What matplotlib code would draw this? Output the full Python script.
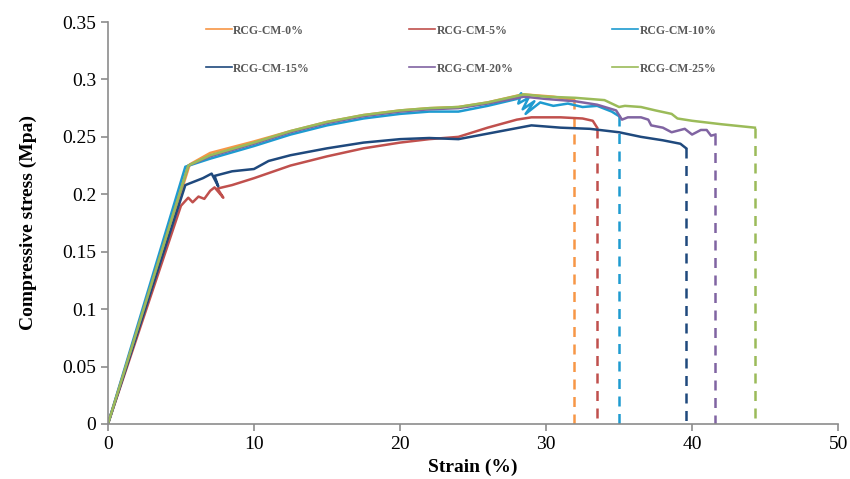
import numpy as np
import matplotlib.pyplot as plt

plt.rcParams['font.family'] = ['Liberation Serif', 'DejaVu Serif']

# strain (%) / stress (MPa)
labels = ['RCG-CM-0%', 'RCG-CM-5%', 'RCG-CM-10%', 'RCG-CM-15%', 'RCG-CM-20%', 'RCG-CM-25%']
colors = ['#F79646', '#C0504D', '#1E9BD0', '#1F497D', '#8064A2', '#9BBB59']

x0 = [0, 5.6, 7, 10, 12.5, 15, 17.5, 20, 22, 24, 26, 28.4, 29.5, 30.5, 31.5, 31.9]
y0 = [0, 0.226, 0.236, 0.246, 0.255, 0.263, 0.269, 0.273, 0.275, 0.276, 0.28, 0.287, 0.286, 0.285, 0.283, 0.283]

x5 = [0, 5.0, 5.5, 5.8, 6.2, 6.6, 7.0, 7.3, 7.9, 7.5, 8.5, 10, 12.5, 15, 17.5, 20, 22, 24, 26, 28, 29, 31, 32.5, 33.2, 33.5]
y5 = [0, 0.19, 0.197, 0.193, 0.198, 0.196, 0.203, 0.206, 0.197, 0.205, 0.208, 0.214, 0.225, 0.233, 0.24, 0.245, 0.248, 0.25, 0.258, 0.265, 0.267, 0.267, 0.266, 0.264, 0.258]

x10 = [0, 5.3, 7, 10, 12.5, 15, 17.5, 20, 22, 24, 26, 28.0, 28.3, 28.1, 28.8, 28.4, 29.2, 28.6, 29.6, 30.5, 31.5, 32.5, 33.5, 34.5, 35.0]
y10 = [0, 0.224, 0.231, 0.242, 0.252, 0.26, 0.266, 0.27, 0.272, 0.272, 0.277, 0.283, 0.288, 0.279, 0.284, 0.274, 0.281, 0.27, 0.28, 0.277, 0.279, 0.276, 0.277, 0.272, 0.268]

x15 = [0, 5.3, 6.5, 7.1, 7.55, 7.3, 8.5, 10, 11, 12.5, 15, 17.5, 20, 22, 24, 26.5, 29, 31, 33, 35, 36.5, 38, 39.2, 39.6]
y15 = [0, 0.208, 0.214, 0.218, 0.207, 0.216, 0.22, 0.222, 0.229, 0.234, 0.24, 0.245, 0.248, 0.249, 0.248, 0.254, 0.26, 0.258, 0.257, 0.254, 0.25, 0.247, 0.244, 0.24]

x20 = [0, 5.5, 7, 10, 12.5, 15, 17.5, 20, 22, 24, 26, 28.5, 30, 32, 33.5, 34.8, 35.2, 35.6, 36.5, 37, 37.2, 38, 38.6, 39.5, 40, 40.6, 41.0, 41.3, 41.6]
y20 = [0, 0.225, 0.233, 0.244, 0.254, 0.262, 0.268, 0.272, 0.274, 0.275, 0.279, 0.285, 0.283, 0.281, 0.278, 0.273, 0.265, 0.267, 0.267, 0.265, 0.26, 0.258, 0.254, 0.257, 0.252, 0.256, 0.256, 0.251, 0.252]

x25 = [0, 5.5, 7, 10, 12.5, 15, 17.5, 20, 22, 24, 26, 28.5, 30, 32, 34, 35.0, 35.4, 36.5, 37.5, 38.6, 39.0, 40, 42, 44.3]
y25 = [0, 0.225, 0.234, 0.245, 0.255, 0.263, 0.269, 0.273, 0.275, 0.276, 0.28, 0.287, 0.285, 0.284, 0.282, 0.276, 0.277, 0.276, 0.273, 0.27, 0.266, 0.264, 0.261, 0.258]

series = [(x0, y0), (x5, y5), (x10, y10), (x15, y15), (x20, y20), (x25, y25)]

fig = plt.figure(figsize=(8.5, 4.79), dpi=100)
ax = fig.add_axes([0.127, 0.115, 0.859, 0.839])

handles = []
for (xs, ys), c, lab in zip(series, colors, labels):
    h, = ax.plot(xs, ys, color=c, lw=1.8, label=lab)
    handles.append(h)
    # failure point drawn as dashed drop to zero
    ax.plot([xs[-1], xs[-1]], [ys[-1], 0], color=c, lw=1.8, ls=(0, (4, 3)))

ax.set_xlim(0, 50)
ax.set_ylim(0, 0.35)
ax.set_xticks(np.arange(0, 51, 10))
ax.set_yticks(np.arange(0, 0.351, 0.05))
ax.set_yticklabels(['0', '0.05', '0.1', '0.15', '0.2', '0.25', '0.3', '0.35'])
for s in ['top', 'right']:
    ax.spines[s].set_visible(False)
for s in ['left', 'bottom']:
    ax.spines[s].set_color('#8c8c8c')
    ax.spines[s].set_linewidth(1.2)
ax.tick_params(colors='#8c8c8c', labelcolor='black', labelsize=14, length=5, width=1.2)
ax.set_xlabel('Strain (%)', fontsize=14, fontweight='bold', labelpad=4)
ax.set_ylabel('Compressive stress (Mpa)', fontsize=14, fontweight='bold', labelpad=18)

# legend fills column-wise: reorder so rows read 0,5,10 / 15,20,25
order = [0, 3, 1, 4, 2, 5]
leg = ax.legend([handles[i] for i in order], [labels[i] for i in order],
                loc='upper left', bbox_to_anchor=(0.12, 1.02), ncol=3, frameon=False,
                fontsize=8.5, handlelength=2.2, handletextpad=0.1, columnspacing=8.4,
                labelspacing=2.2)
for t in leg.get_texts():
    t.set_color('#595959')
    t.set_fontweight('bold')
for h in leg.get_lines():
    h.set_linewidth(1.2)

fig.savefig('out.png', dpi=100)
